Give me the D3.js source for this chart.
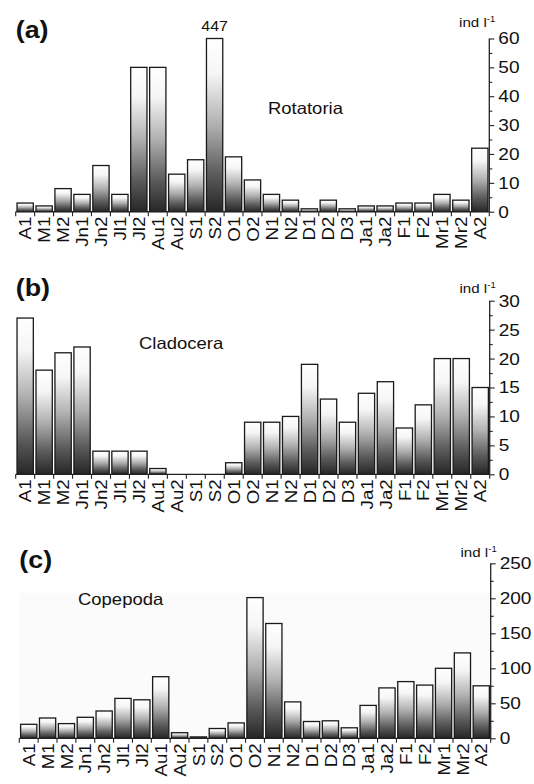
<!DOCTYPE html>
<html>
<head>
<meta charset="utf-8">
<script src="https://cdn.jsdelivr.net/npm/d3@7"></script>
<style>
  html, body { margin: 0; padding: 0; background: #fff; }
  svg { display: block; }
  text { font-family: "Liberation Sans", Arial, Helvetica, sans-serif; fill: #111; }
</style>
</head>
<body>
<svg id="chart" width="534" height="784"></svg>
<script>
// ---- data ----
const categories = ["A1","M1","M2","Jn1","Jn2","Jl1","Jl2","Au1","Au2","S1","S2","O1","O2",
                    "N1","N2","D1","D2","D3","Ja1","Ja2","F1","F2","Mr1","Mr2","A2"];
const rotatoria = [3, 2, 8, 6, 16, 6, 50, 50, 13, 18, 447, 19, 11, 6, 4, 1, 4, 1, 2, 2, 3, 3, 6, 4, 22];
const cladocera = [27, 18, 21, 22, 4, 4, 4, 1, 0, 0, 0, 2, 9, 9, 10, 19, 13, 9, 14, 16, 8, 12, 20, 20, 15];
const copepoda  = [20, 29, 21, 30, 39, 57, 55, 88, 8, 2, 14, 22, 201, 164, 52, 24, 25, 15, 47, 72, 81, 76, 100, 122, 75];
const panelLetters = ["(a)", "(b)", "(c)"];
const taxonNames = ["Rotatoria", "Cladocera", "Copepoda"];
const yMax = [60, 30, 250];
const yMajorStep = [10, 5, 50];
const unitLabel = "ind l";
const unitSup = "-1";

// ---- layout (positions only) ----
const layout = [
  { x0: 15.7, x1: 489.3, base: 211.7, top: 38.5, letterY: 38, nameX: 268, nameY: 114, unitY: 27, bg: null },
  { x0: 15.7, x1: 489.7, base: 474.3, top: 300.7, letterY: 295.5, nameX: 139, nameY: 349, unitY: 293, bg: null },
  { x0: 19.3, x1: 490.7, base: 738.3, top: 563.3, letterY: 568, nameX: 78, nameY: 604.5, unitY: 557.3, bg: 593 }
];
const series = [rotatoria, cladocera, copepoda];
const SX = 1.12; // horizontal stretch of the original typeface

const svg = d3.select("#chart");
svg.append("rect").attr("width", 534).attr("height", 784).attr("fill", "#fff");

const defs = svg.append("defs");
const grad = defs.append("linearGradient")
  .attr("id", "barGrad").attr("x1", 0).attr("y1", 0).attr("x2", 0).attr("y2", 1);
[[0, "#ffffff"], [0.2, "#f6f6f6"], [0.5, "#b0b0b0"], [0.78, "#5c5c5c"], [1, "#262626"]]
  .forEach(([o, c]) => grad.append("stop").attr("offset", o).attr("stop-color", c));

series.forEach((vals, i) => {
  const L = layout[i];
  const g = svg.append("g");
  const x = d3.scaleBand().domain(categories).range([L.x0, L.x1]).paddingInner(0.14).paddingOuter(0.07);
  const y = d3.scaleLinear().domain([0, yMax[i]]).range([L.base, L.top]).clamp(true);

  if (L.bg !== null) {
    g.append("rect").attr("x", L.x0).attr("y", L.bg)
      .attr("width", L.x1 - L.x0).attr("height", L.base - L.bg).attr("fill", "#fbfbfb");
  }

  // bars
  g.selectAll("rect.bar").data(categories.map((c, k) => ({ c, v: vals[k] })))
    .join("rect").attr("class", "bar")
    .attr("x", d => x(d.c))
    .attr("width", x.bandwidth())
    .attr("y", d => y(d.v))
    .attr("height", d => Math.max(0, L.base - y(d.v)))
    .attr("fill", "url(#barGrad)")
    .attr("stroke", "#1a1a1a").attr("stroke-width", 1.3);

  // value label for clipped bar
  categories.forEach((c, k) => {
    if (vals[k] > yMax[i]) {
      g.append("text").attr("transform", `translate(${x(c) + x.bandwidth() / 2},${L.top - 8}) scale(1.1,1)`)
        .attr("text-anchor", "middle").attr("font-size", 14.5).text(vals[k]);
    }
  });

  // x axis: baseline + boundary ticks
  const step = x.step();
  const bounds = categories.map(c => x(c) - step * x.paddingInner() / 2);
  bounds.push(L.x1);
  g.append("line").attr("x1", L.x0).attr("x2", L.x1).attr("y1", L.base).attr("y2", L.base)
    .attr("stroke", "#222").attr("stroke-width", 1.3);
  g.selectAll("line.xt").data(bounds).join("line").attr("class", "xt")
    .attr("x1", d => d).attr("x2", d => d).attr("y1", L.base).attr("y2", L.base + 4.5)
    .attr("stroke", "#222").attr("stroke-width", 1.1);

  // x labels via axis
  const xAxisG = g.append("g").attr("transform", `translate(0,${L.base})`)
    .call(d3.axisBottom(x).tickSize(0).tickPadding(0));
  xAxisG.select(".domain").remove();
  xAxisG.selectAll("text")
    .attr("x", 0).attr("y", 0).attr("dy", "0.36em")
    .attr("transform", "translate(0,5) rotate(-90) scale(1.1,1)")
    .attr("text-anchor", "end")
    .attr("font-size", 17)
    .attr("font-family", null)
    .attr("fill", "#111");

  // y axis (right side)
  const majors = d3.range(0, yMax[i] + 1e-9, yMajorStep[i]);
  const minors = d3.range(yMajorStep[i] / 2, yMax[i], yMajorStep[i]);
  const yAxisG = g.append("g").attr("transform", `translate(${L.x1},0)`)
    .call(d3.axisRight(y).tickValues(majors).tickSize(5).tickPadding(4).tickFormat(d3.format("d")));
  yAxisG.select(".domain").attr("stroke", "#222").attr("stroke-width", 1.3)
    .attr("d", `M0,${L.base}V${L.top}`);
  yAxisG.selectAll(".tick line").attr("stroke", "#222").attr("stroke-width", 1.1);
  yAxisG.selectAll("text").each(function () {
    const t = d3.select(this);
    const xx = +t.attr("x");
    t.attr("x", 0).attr("transform", `translate(${xx},0) scale(${SX},1)`)
      .attr("font-size", 17).attr("font-family", null).attr("fill", "#111");
  });
  const yMinorG = g.append("g").attr("transform", `translate(${L.x1},0)`)
    .call(d3.axisRight(y).tickValues(minors).tickSize(3).tickFormat(""));
  yMinorG.select(".domain").remove();
  yMinorG.selectAll(".tick line").attr("stroke", "#222").attr("stroke-width", 1.1);

  // unit label
  const ut = g.append("text").attr("transform", `translate(${L.x1 + 6},${L.unitY}) scale(${SX},1)`)
    .attr("text-anchor", "end").attr("font-size", 13.5);
  ut.append("tspan").text(unitLabel);
  ut.append("tspan").attr("font-size", 8.5).attr("dy", -5).text(unitSup);

  // panel letter
  g.append("text").attr("transform", `translate(${L.x0},${L.letterY}) scale(${SX},1)`)
    .attr("font-size", 24).attr("font-weight", "bold").text(panelLetters[i]);

  // taxon name
  g.append("text").attr("transform", `translate(${L.nameX},${L.nameY}) scale(${SX},1)`)
    .attr("font-size", 16.5).text(taxonNames[i]);
});
</script>
</body>
</html>
